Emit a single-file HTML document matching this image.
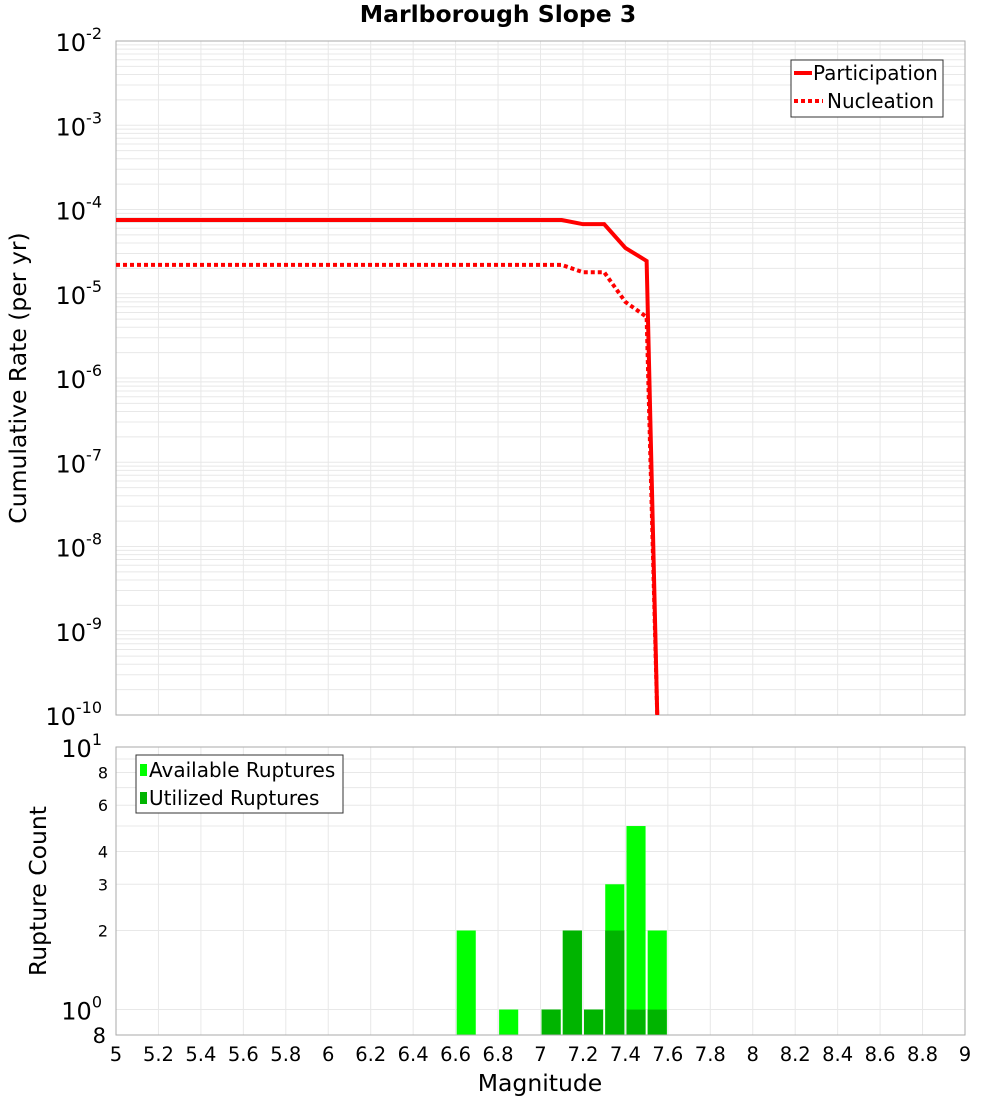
<!DOCTYPE html>
<html><head><meta charset="utf-8"><style>body{margin:0;background:#fff;font-family:"Liberation Sans","DejaVu Sans",sans-serif}</style></head>
<body>
<svg id="c" width="1000" height="1100" xmlns="http://www.w3.org/2000/svg" font-family="DejaVu Sans, Liberation Sans, sans-serif"></svg>
<script>
const mags=[5,7.1,7.2,7.3,7.4,7.5,7.55];
const partRates=[7.5e-5,7.5e-5,6.7e-5,6.7e-5,3.5e-5,2.45e-5,1e-10];
const nuclRates=[2.2e-5,2.2e-5,1.8e-5,1.8e-5,8e-6,5.3e-6,1e-10];
const binCenters=[6.65,6.85,7.05,7.15,7.25,7.35,7.45,7.55];
const availCounts=[2,1,1,2,1,3,5,2];
const utilCounts=[0,0,1,2,1,2,1,1];
const xTicks=[5,5.2,5.4,5.6,5.8,6,6.2,6.4,6.6,6.8,7,7.2,7.4,7.6,7.8,8,8.2,8.4,8.6,8.8,9];
const xTickLabels=["5","5.2","5.4","5.6","5.8","6","6.2","6.4","6.6","6.8","7","7.2","7.4","7.6","7.8","8","8.2","8.4","8.6","8.8","9"];
const yExps=[-2,-3,-4,-5,-6,-7,-8,-9,-10];
const countTicks=[2,3,4,6,8];

const svg=document.getElementById('c');
const NS='http://www.w3.org/2000/svg';
function el(t,a,p){const e=document.createElementNS(NS,t);for(const k in a)e.setAttribute(k,a[k]);(p||svg).appendChild(e);return e;}
const X0=116,X1=965;
const xs=m=>X0+(m-5)/4*(X1-X0);
const T0=41,T1=715;
const ys=v=>T0+(-2-Math.log10(v))/8*(T1-T0);
const B0=747,B1=1035;
const yb=v=>B0+(1-Math.log10(v))/(1-Math.log10(0.8))*(B1-B0);

const ti=el('text',{x:498,y:22,'text-anchor':'middle','font-size':23.5,'font-weight':'bold'});
ti.textContent='Marlborough Slope 3';



const gt=el('g',{stroke:'#e8e8e8','stroke-width':1});


for(let e=-10;e<-2;e++)for(let k=1;k<10;k++){const y=ys(k*Math.pow(10,e));el('line',{x1:X0,x2:X1,y1:y,y2:y},gt);}
xTicks.forEach(m=>el('line',{x1:xs(m),x2:xs(m),y1:T0,y2:T1},gt));
const ft=el('rect',{x:X0,y:T0,width:X1-X0,height:T1-T0,fill:'none',stroke:'#aaa'});



yExps.forEach(e=>{const t=el('text',{x:102,y:ys(Math.pow(10,e))+10,'text-anchor':'end','font-size':24});


t.innerHTML='10<tspan dy="-12" font-size="16">'+e+'</tspan>';});
const yt=el('text',{x:0,y:0,transform:'translate(26,378) rotate(-90)','text-anchor':'middle','font-size':23.5});
yt.textContent='Cumulative Rate (per yr)';



const pp=el('polyline',{points:mags.map((m,i)=>xs(m)+','+ys(partRates[i])).join(' '),fill:'none',stroke:'#f00','stroke-width':4});


const np=el('polyline',{points:mags.map((m,i)=>xs(m)+','+ys(nuclRates[i])).join(' '),fill:'none',stroke:'#f00','stroke-width':4,'stroke-dasharray':'4,3'});



const lg=el('g',{});


el('rect',{x:791,y:60,width:152,height:57,fill:'#fff',stroke:'#333'},lg);
el('line',{x1:794,x2:812,y1:73,y2:73,stroke:'#f00','stroke-width':4},lg);
el('line',{x1:794,x2:823,y1:101,y2:101,stroke:'#f00','stroke-width':4,'stroke-dasharray':'4,3'},lg);
const l1=el('text',{x:813,y:80,'font-size':20},lg);l1.textContent='Participation';


const l2=el('text',{x:827,y:108,'font-size':20},lg);l2.textContent='Nucleation';



const gb=el('g',{stroke:'#e8e8e8','stroke-width':1});


[1,2,3,4,5,6,7,8,9].forEach(v=>{const y=yb(v);el('line',{x1:X0,x2:X1,y1:y,y2:y},gb);});
xTicks.forEach(m=>el('line',{x1:xs(m),x2:xs(m),y1:B0,y2:B1},gb));

binCenters.forEach((c,i)=>{
 const x=xs(c-0.045),w=xs(c+0.045)-x;
 if(availCounts[i]>0){const r=el('rect',{x:x,y:yb(availCounts[i]),width:w,height:B1-yb(availCounts[i]),fill:'#00ff00'});
 
 }
 if(utilCounts[i]>0){const r=el('rect',{x:x,y:yb(utilCounts[i]),width:w,height:B1-yb(utilCounts[i]),fill:'#00b400'});
 
 }
});
const fb=el('rect',{x:X0,y:B0,width:X1-X0,height:B1-B0,fill:'none',stroke:'#aaa'});



const t10=el('text',{x:102,y:B0+10,'text-anchor':'end','font-size':24});
t10.innerHTML='10<tspan dy="-12" font-size="16">1</tspan>';


const t1=el('text',{x:102,y:yb(1)+10,'text-anchor':'end','font-size':24});
t1.innerHTML='10<tspan dy="-12" font-size="16">0</tspan>';


countTicks.forEach(v=>{const t=el('text',{x:108,y:yb(v)+6,'text-anchor':'end','font-size':16});t.textContent=v;

});
const t8=el('text',{x:106,y:1043,'text-anchor':'end','font-size':21});t8.textContent='8';


const yt2=el('text',{x:0,y:0,transform:'translate(46,891) rotate(-90)','text-anchor':'middle','font-size':23.5});
yt2.textContent='Rupture Count';



const lb=el('g',{});


el('rect',{x:136,y:755,width:207,height:58,fill:'#fff',stroke:'#333'},lb);
el('rect',{x:140,y:764,width:7,height:12,fill:'#00ff00'},lb);
el('rect',{x:140,y:792,width:7,height:12,fill:'#00b400'},lb);
const a1=el('text',{x:149,y:777,'font-size':20},lb);a1.textContent='Available Ruptures';


const a2=el('text',{x:149,y:805,'font-size':20},lb);a2.textContent='Utilized Ruptures';



xTicks.forEach((m,i)=>{const t=el('text',{x:xs(m),y:1061,'text-anchor':'middle','font-size':19.5});t.textContent=xTickLabels[i];

});
const xt=el('text',{x:540,y:1091,'text-anchor':'middle','font-size':23.5});xt.textContent='Magnitude';


</script>
</body></html>
